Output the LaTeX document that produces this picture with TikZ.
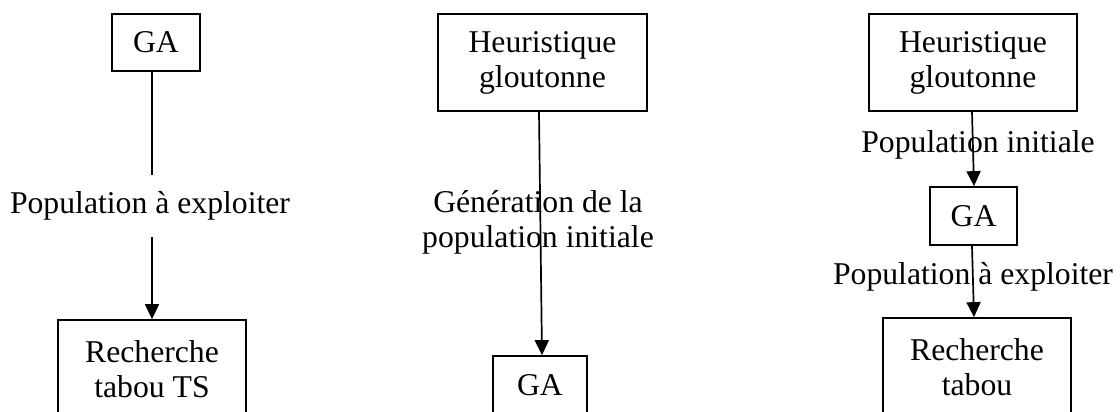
\documentclass[tikz,border=0pt]{standalone}
\usepackage{fontspec}
\setmainfont{Liberation Serif}
\usetikzlibrary{arrows.meta,calc}
\begin{document}
\begin{tikzpicture}[x=1pt,y=-1pt,
  every node/.style={font=\fontsize{31.7}{35}\selectfont, inner sep=0pt},
  box/.style={draw, line width=1.7pt, align=center},
  lbl/.style={align=center},
  link/.style={line width=1.7pt},
  arr/.style={link, -{Triangle[width=14pt,length=15pt]}}]
\useasboundingbox (0,0) rectangle (1120,412);
\clip (0,0) rectangle (1120,412);

% GA feeding the tabu search
\node[box, minimum width=88, minimum height=57] (ga1) at (156,42.5) {GA};
\node[box, minimum width=188, minimum height=99] (rech1) at (152,369.5) {Recherche\\tabou TS};
\node[lbl, minimum height=62] (lab1) at (150,206) {Population à exploiter};
\draw[link] (rech1.north |- ga1.south) -- (rech1.north |- lab1.north);
\draw[arr] (rech1.north |- lab1.south) -- (rech1.north);

% greedy heuristic seeding the GA
\node[box, minimum width=209, minimum height=97] (h2) at (542.5,62.5) {Heuristique\\gloutonne};
\node[box, minimum width=94, minimum height=58] (ga2) at (540,385) {GA};
\node[lbl] (lab2) at (538,222) {Génération de la\\population initiale};
\draw[arr] ([xshift=-3.5pt]h2.south) -- ([xshift=2pt]ga2.north);

% full chain: heuristic, GA, tabu search
\node[box, minimum width=208, minimum height=97] (h3) at (973,62.5) {Heuristique\\gloutonne};
\node[box, minimum width=87, minimum height=58] (ga3) at (973.5,216) {GA};
\node[box, minimum width=188, minimum height=99] (rech3) at (977,367.5) {Recherche\\tabou};
\node[lbl] (lab3a) at (978,145) {Population initiale};
\node[lbl] (lab3b) at (973,277) {Population à exploiter};
\draw[arr] ([xshift=-1pt]h3.south) -- ([xshift=0.5pt]ga3.north);
\draw[arr] ([xshift=-1.5pt]ga3.south) -- ([xshift=-3pt]rech3.north);
\end{tikzpicture}
\end{document}
